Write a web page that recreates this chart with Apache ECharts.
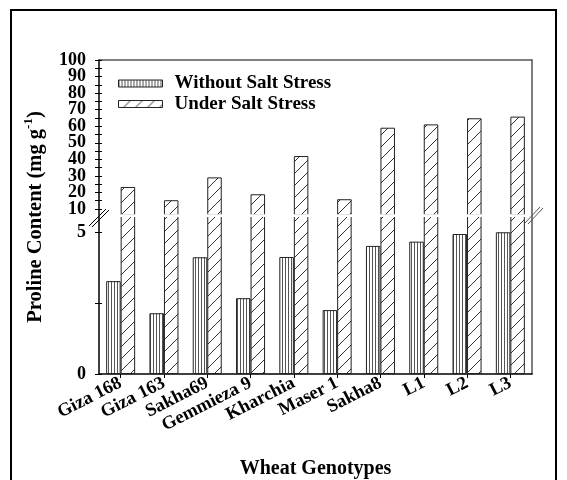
<!DOCTYPE html>
<html>
<head>
<meta charset="utf-8">
<script src="https://cdn.jsdelivr.net/npm/echarts@6/dist/echarts.min.js"></script>
<style>
html,body{margin:0;padding:0;background:#fff;}
#chart{width:567px;height:480px;}
</style>
</head>
<body>
<div id="chart"></div>
<script>
const categories = ['Giza 168','Giza 163','Sakha69','Gemmieza 9','Kharchia','Maser 1','Sakha8','L1','L2','L3'];
const withoutSalt = [3.27, 2.14, 4.11, 2.67, 4.12, 2.25, 4.51, 4.66, 4.93, 4.99];
const underSalt = [23.3, 15.3, 29.1, 18.9, 42.0, 15.9, 59.1, 61.1, 64.8, 65.8];
const upperTicks = [10,15,20,25,30,35,40,45,50,55,60,65,70,75,80,85,90,95,100];
const upperLabels = [10,20,30,40,50,60,70,80,90,100];
const lowerTicks = [0, 2.5, 5];
const lowerLabels = [0, 5];

const FONT = 'Liberation Serif';
const UPPER_MIN = 6.376, UPPER_MAX = 100;
const LOWER_MIN = 0, LOWER_MAX = 5.563;

// split labels into two sets so the library's overlap hiding keeps all of them
const upperLabelsA = upperLabels.filter((v, i) => i % 2 === 0);
const upperLabelsB = upperLabels.filter((v, i) => i % 2 === 1);

function stripe() {
  const c = document.createElement('canvas');
  c.width = 3; c.height = 12;
  const g = c.getContext('2d');
  g.fillStyle = '#fff'; g.fillRect(0,0,3,12);
  g.fillStyle = '#555'; g.fillRect(0,0,1,12);
  return c;
}
function hatch() {
  const s = 12;
  const c = document.createElement('canvas');
  c.width = s; c.height = s;
  const g = c.getContext('2d');
  g.fillStyle = '#fff'; g.fillRect(0,0,s,s);
  g.strokeStyle = '#333'; g.lineWidth = 1;
  g.beginPath();
  g.moveTo(-1, s+1); g.lineTo(s+1, -1);
  g.moveTo(-1, 1); g.lineTo(1, -1);
  g.moveTo(s-1, s+1); g.lineTo(s+1, s-1);
  g.stroke();
  return c;
}
const stripeFill = {image: stripe(), repeat: 'repeat'};
const hatchFill = {image: hatch(), repeat: 'repeat'};

const chart = echarts.init(document.getElementById('chart'), null, {renderer: 'canvas'});

const labelFont = {fontFamily: FONT, fontWeight: 'bold', fontSize: 18, color: '#000'};

function barSeries(name, data, idx, fill) {
  return {
    name: name, type: 'bar', data: data,
    xAxisIndex: idx, yAxisIndex: idx,
    barGap: '0%', barCategoryGap: '33%',
    itemStyle: {color: fill, borderColor: '#222', borderWidth: 1},
    clip: true, animation: false
  };
}

function labelOnlyAxis(values) {
  return {type: 'value', gridIndex: 0, min: UPPER_MIN, max: UPPER_MAX, position: 'left',
    axisLine: {show: false}, axisTick: {show: false}, splitLine: {show: false},
    axisLabel: Object.assign({}, labelFont, {customValues: values, margin: 13})};
}

const option = {
  animation: false,
  grid: [
    {left: 99, right: 35, top: 60, height: 155},
    {left: 99, right: 35, top: 216, height: 158}
  ],
  legend: {
    orient: 'vertical', left: 118, top: 74, padding: 0,
    itemWidth: 44, itemHeight: 7, itemGap: 1.5, icon: 'rect',
    data: ['Without Salt Stress', 'Under Salt Stress'],
    textStyle: Object.assign({}, labelFont, {fontSize: 19, lineHeight: 18, padding: [0,0,0,7]}),
    itemStyle: {borderColor: '#222', borderWidth: 1}
  },
  xAxis: [
    {type: 'category', gridIndex: 0, data: categories, position: 'top',
     axisLine: {show: true, lineStyle: {color: '#555', width: 1.5}},
     axisTick: {show: false}, axisLabel: {show: false}, splitLine: {show: false}},
    {type: 'category', gridIndex: 1, data: categories, position: 'bottom',
     axisLine: {show: true, lineStyle: {color: '#000', width: 1.5}},
     axisTick: {show: true, alignWithLabel: true, length: 4, lineStyle: {color: '#000'}},
     axisLabel: Object.assign({}, labelFont, {fontSize: 18.5, rotate: 27, margin: 8, interval: 0}),
     name: 'Wheat Genotypes', nameLocation: 'middle', nameGap: 85,
     nameTextStyle: {fontFamily: FONT, fontWeight: 'bold', fontSize: 20, color: '#000'},
     splitLine: {show: false}}
  ],
  yAxis: [
    {type: 'value', gridIndex: 0, min: UPPER_MIN, max: UPPER_MAX, position: 'left',
     axisLine: {show: true, lineStyle: {color: '#000', width: 1.5}},
     axisTick: {show: true, length: 4, customValues: upperTicks, lineStyle: {color: '#000'}},
     axisLabel: {show: false},
     splitLine: {show: false}},
    {type: 'value', gridIndex: 1, min: LOWER_MIN, max: LOWER_MAX, position: 'left',
     axisLine: {show: true, lineStyle: {color: '#000', width: 1.5}},
     axisTick: {show: true, length: 4, customValues: lowerTicks, lineStyle: {color: '#000'}},
     axisLabel: Object.assign({}, labelFont, {customValues: lowerLabels, margin: 13,
       showMinLabel: true, showMaxLabel: true}),
     splitLine: {show: false}},
    {type: 'value', gridIndex: 0, min: UPPER_MIN, max: UPPER_MAX, position: 'right',
     axisLine: {show: true, lineStyle: {color: '#555', width: 1.5}},
     axisTick: {show: false}, axisLabel: {show: false}, splitLine: {show: false}},
    {type: 'value', gridIndex: 1, min: LOWER_MIN, max: LOWER_MAX, position: 'right',
     axisLine: {show: true, lineStyle: {color: '#555', width: 1.5}},
     axisTick: {show: false}, axisLabel: {show: false}, splitLine: {show: false}},
    {type: 'value', gridIndex: 0, min: UPPER_MIN, max: UPPER_MAX, position: 'left',
     axisLine: {show: false},
     axisTick: {show: true, inside: true, length: 3, customValues: upperTicks, lineStyle: {color: '#000'}},
     axisLabel: {show: false}, splitLine: {show: false}},
    {type: 'value', gridIndex: 1, min: LOWER_MIN, max: LOWER_MAX, position: 'left',
     axisLine: {show: false},
     axisTick: {show: true, inside: true, length: 3, customValues: lowerTicks, lineStyle: {color: '#000'}},
     axisLabel: {show: false}, splitLine: {show: false}},
    labelOnlyAxis(upperLabelsA),
    labelOnlyAxis(upperLabelsB)
  ],
  series: [
    barSeries('Without Salt Stress', withoutSalt, 0, stripeFill),
    barSeries('Under Salt Stress', underSalt, 0, hatchFill),
    barSeries('Without Salt Stress', withoutSalt, 1, stripeFill),
    barSeries('Under Salt Stress', underSalt, 1, hatchFill)
  ],
  graphic: [
    {type: 'rect', shape: {x: 11, y: 10, width: 545, height: 480},
     style: {fill: 'none', stroke: '#000', lineWidth: 2}, silent: true, z: 100},
    {type: 'rect', shape: {x: 101, y: 214.2, width: 430, height: 2.7},
     style: {fill: '#fff'}, silent: true, z: 90},
    {type: 'line', shape: {x1: 89, y1: 226, x2: 106, y2: 209}, style: {stroke: '#000', lineWidth: 1}, z: 100},
    {type: 'line', shape: {x1: 92, y1: 227, x2: 109, y2: 210}, style: {stroke: '#000', lineWidth: 1}, z: 100},
    {type: 'line', shape: {x1: 525, y1: 223, x2: 540, y2: 207}, style: {stroke: '#555', lineWidth: 1}, z: 100},
    {type: 'line', shape: {x1: 528, y1: 224, x2: 543, y2: 208}, style: {stroke: '#555', lineWidth: 1}, z: 100},
    {type: 'text', x: 34, y: 217, rotation: Math.PI / 2,
     style: {
       text: '{m|Proline Content (mg g}{s|-1}{m|)}',
       align: 'center', verticalAlign: 'middle',
       rich: {
         m: {fontFamily: FONT, fontWeight: 'bold', fontSize: 20.5, fill: '#000', lineHeight: 24, verticalAlign: 'bottom'},
         s: {fontFamily: FONT, fontWeight: 'bold', fontSize: 13, fill: '#000', lineHeight: 24, verticalAlign: 'top', padding: [0,0,8,0]}
       }
     }, z: 100}
  ]
};
chart.setOption(option);
</script>
</body>
</html>
